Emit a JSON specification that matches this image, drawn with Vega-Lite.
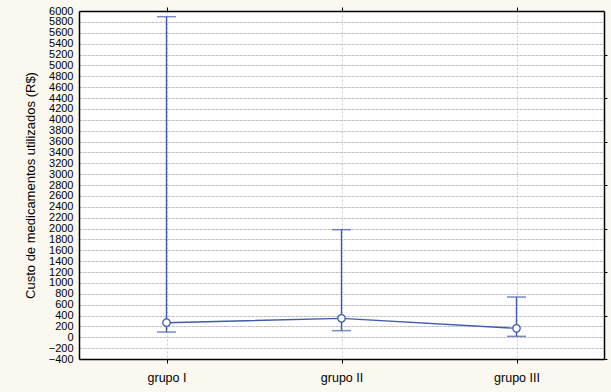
{
  "$schema": "https://vega.github.io/schema/vega-lite/v6.json",
  "width": 525,
  "height": 348,
  "autosize": {"type": "none"},
  "padding": {"left": 79, "top": 11, "right": 7, "bottom": 33},
  "background": "#FBF8EF",
  "config": {
    "view": {"fill": "white", "stroke": null},
    "font": "Liberation Sans",
    "axis": {"labelColor": "black", "titleColor": "black", "domainColor": "black", "tickColor": "black"}
  },
  "data": {
    "values": [
      {"grupo": "grupo I", "media": 268, "inferior": 96, "superior": 5895},
      {"grupo": "grupo II", "media": 348, "inferior": 121, "superior": 1978},
      {"grupo": "grupo III", "media": 164, "inferior": 17, "superior": 740}
    ]
  },
  "resolve": {"axis": {"x": "independent", "y": "independent"}},
  "layer": [
    {
      "mark": {"type": "rule", "color": "#3F5BAA", "strokeWidth": 1.4},
      "encoding": {
        "x": {
          "field": "grupo", "type": "nominal", "sort": null,
          "scale": {"type": "point", "padding": 0.5},
          "axis": {
            "orient": "bottom", "title": null, "labelAngle": 0,
            "labelFontSize": 12.5, "labelPadding": 8, "tickSize": 4,
            "domainWidth": 1.5, "grid": true, "gridColor": "#cccccc", "gridDash": [2, 2], "gridWidth": 1
          }
        },
        "y": {
          "field": "inferior", "type": "quantitative",
          "scale": {"domain": [-400, 6000], "nice": false, "zero": false},
          "axis": {
            "orient": "left",
            "title": "Custo de medicamentos utilizados (R$)",
            "titleFontSize": 13, "titleFontWeight": "normal", "titlePadding": 11,
            "labelFontSize": 11, "labelPadding": 6, "ticks": false, "labelOverlap": false, "labelFlush": false,
            "format": "d",
            "domainWidth": 1.5,
            "values": [-400, -200, 0, 200, 400, 600, 800, 1000, 1200, 1400, 1600, 1800, 2000, 2200, 2400, 2600, 2800, 3000, 3200, 3400, 3600, 3800, 4000, 4200, 4400, 4600, 4800, 5000, 5200, 5400, 5600, 5800, 6000],
            "grid": true, "gridColor": "#bdbdbd", "gridDash": [3, 1], "gridWidth": 1
          }
        },
        "y2": {"field": "superior"}
      }
    },
    {
      "mark": {"type": "tick", "color": "#3F5BAA", "size": 19, "thickness": 1.5},
      "encoding": {
        "x": {
          "field": "grupo", "type": "nominal", "sort": null,
          "scale": {"type": "point", "padding": 0.5},
          "axis": {"orient": "top", "title": null, "labels": false, "tickSize": 4, "domainWidth": 1.5, "grid": false}
        },
        "y": {
          "field": "inferior", "type": "quantitative",
          "scale": {"domain": [-400, 6000], "nice": false, "zero": false},
          "axis": {"orient": "right", "title": null, "labels": false, "tickSize": 3, "domainWidth": 1.5, "grid": false,
                   "values": [-400, 400, 1200, 2000, 2800, 3600, 4400, 5200]}
        }
      }
    },
    {
      "mark": {"type": "tick", "color": "#3F5BAA", "size": 19, "thickness": 1.5},
      "encoding": {
        "x": {"field": "grupo", "type": "nominal", "sort": null, "scale": {"type": "point", "padding": 0.5}, "axis": null},
        "y": {"field": "superior", "type": "quantitative", "scale": {"domain": [-400, 6000], "nice": false, "zero": false}, "axis": null}
      }
    },
    {
      "mark": {"type": "line", "color": "#3F5BAA", "strokeWidth": 1.4},
      "encoding": {
        "x": {"field": "grupo", "type": "nominal", "sort": null, "scale": {"type": "point", "padding": 0.5}, "axis": null},
        "y": {"field": "media", "type": "quantitative", "scale": {"domain": [-400, 6000], "nice": false, "zero": false}, "axis": null}
      }
    },
    {
      "mark": {"type": "point", "shape": "circle", "filled": true, "fill": "white", "stroke": "#3F5BAA", "strokeWidth": 1.3, "size": 55, "opacity": 1},
      "encoding": {
        "x": {"field": "grupo", "type": "nominal", "sort": null, "scale": {"type": "point", "padding": 0.5}, "axis": null},
        "y": {"field": "media", "type": "quantitative", "scale": {"domain": [-400, 6000], "nice": false, "zero": false}, "axis": null}
      }
    }
  ]
}
